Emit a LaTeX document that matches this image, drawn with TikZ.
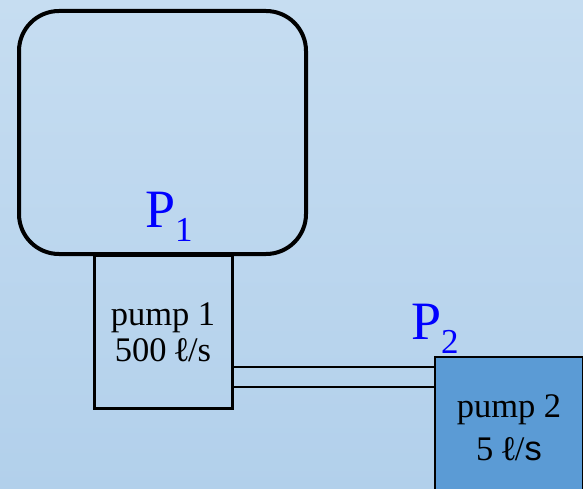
\documentclass[tikz,border=0pt]{standalone}
\usepackage{fontspec}
\setmainfont{Liberation Serif}
\setsansfont{Liberation Sans}
\usepackage{tikz}
\usetikzlibrary{positioning,calc}
\definecolor{FondoArriba}{RGB}{198, 221, 241}
\definecolor{FondoAbajo}{RGB}{178, 208, 235}
\definecolor{BombaAzul}{RGB}{91, 155, 213}
\colorlet{etiqueta}{blue}
\tikzset{
  deposito/.style={draw=black,line width=4pt,rounded corners=40pt,
                   minimum width=287pt,minimum height=243pt,inner sep=0pt},
  bomba/.style={draw=black,line width=3pt,align=center,inner sep=0pt,
                font=\fontsize{34.5}{36}\selectfont},
  tubo/.style={draw=black,line width=2pt},
  presion/.style={etiqueta,inner sep=0pt,anchor=base west},
}
\newcommand{\pres}[1]{{\fontsize{54}{54}\selectfont P}\raisebox{-14pt}{\fontsize{35}{35}\selectfont #1}}
\newcommand{\litro}{{\bfseries ℓ}}

\begin{document}
\begin{tikzpicture}[x=1pt,y=-1pt]
  \shade[top color=FondoArriba,bottom color=FondoAbajo] (0,0) rectangle (583,489);
  \useasboundingbox (0,0) rectangle (583,489);
  \clip (0,0) rectangle (583,489);
  % deposito y bombas
  \node[deposito] (tank) at (162.5,132.5) {};
  \node[bomba,minimum width=138pt,minimum height=153pt] (pump1) at (163,332) {pump 1\\500 \litro/s};
  \node[bomba,line width=2pt,fill=BombaAzul,minimum width=148pt,minimum height=142pt,
        font=\fontsize{34.5}{43}\selectfont] (pump2) at (509,428) {pump 2\\5 \litro/{\sffamily s}};
  \draw[black,line width=3pt] (pump1.north west) -- (pump1.north east);
  % tuberia
  \draw[tubo] (pump1.east |- 0,367) -- (pump2.west |- 0,367);
  \draw[tubo] (pump1.east |- 0,387) -- (pump2.west |- 0,387);
  % presiones
  \node[presion] (p1) at (145,227) {\pres{1}};
  \node[presion] (p2) at (411,339) {\pres{2}};
\end{tikzpicture}
\end{document}
